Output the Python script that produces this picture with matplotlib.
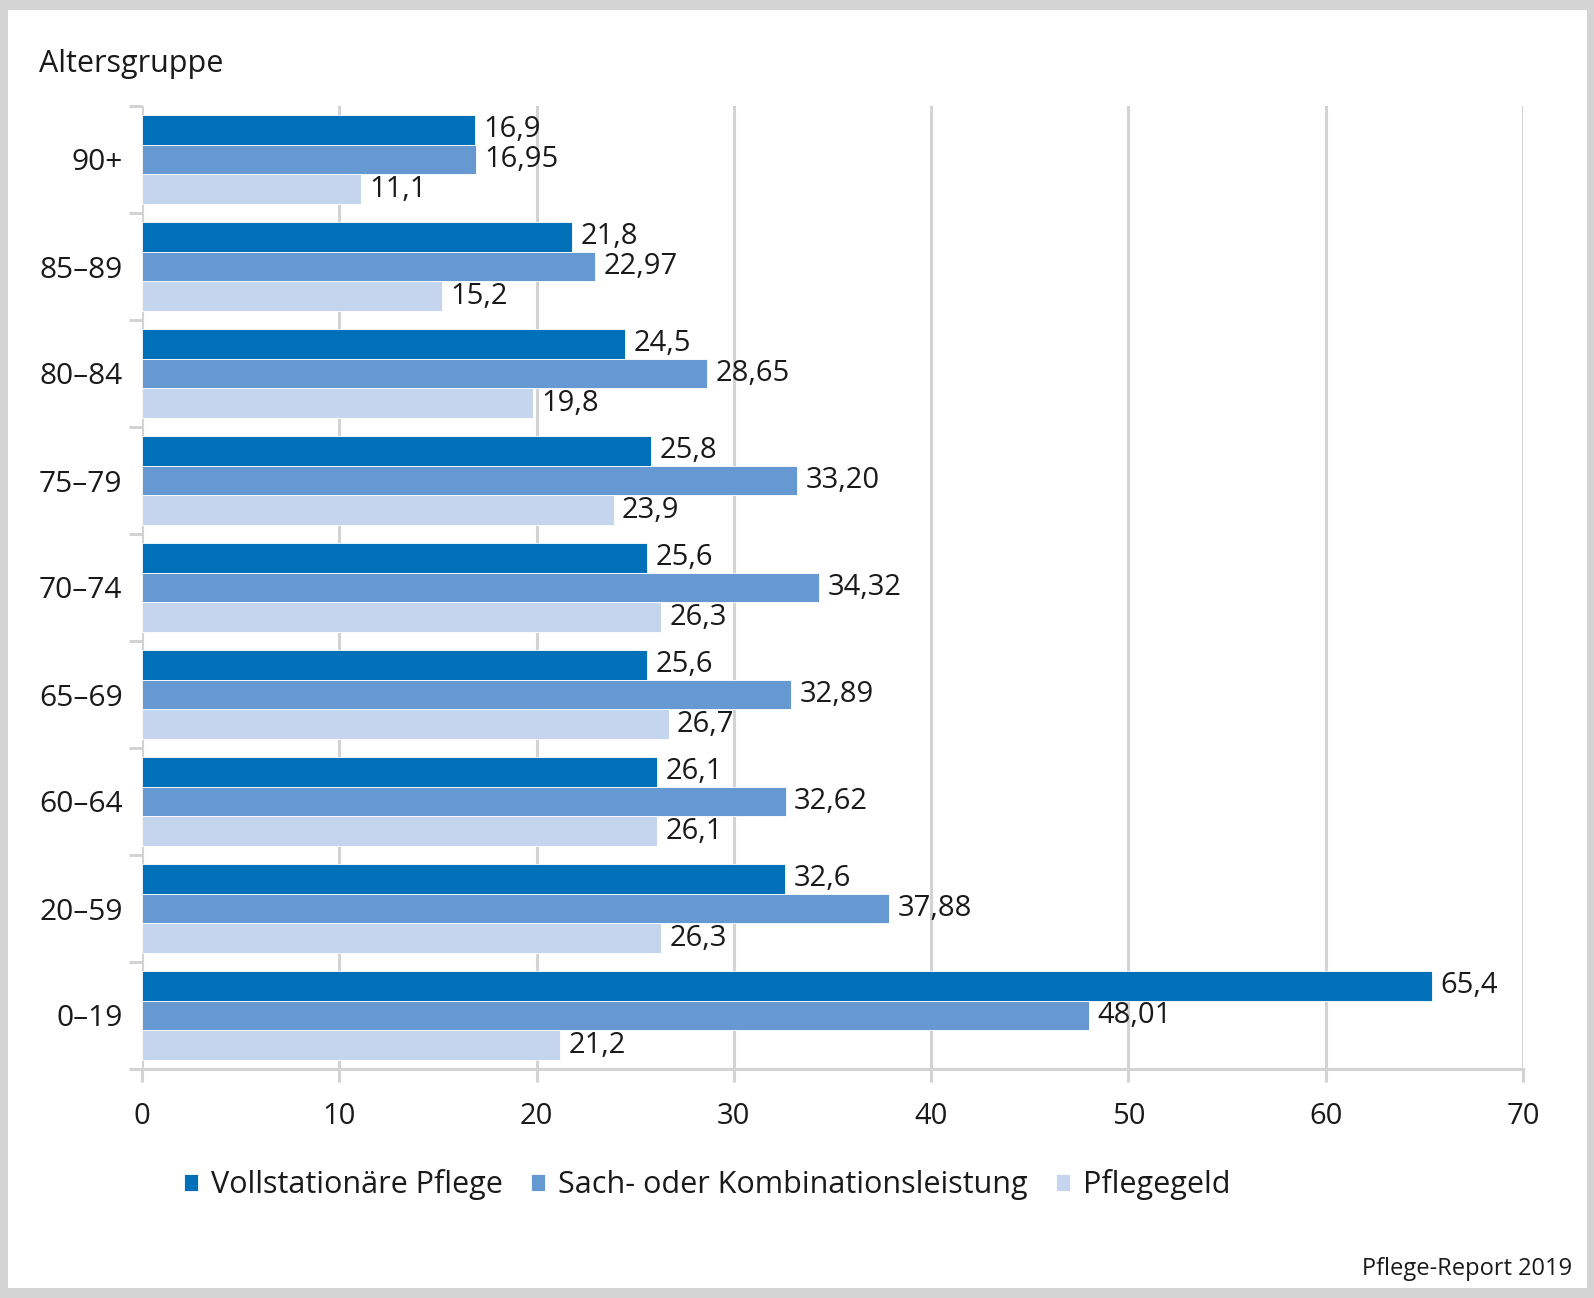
import numpy as np
import matplotlib
matplotlib.use('Agg')
import matplotlib.pyplot as plt
from matplotlib.patches import Rectangle

plt.rcParams['font.family'] = ['Open Sans', 'DejaVu Sans']

# Data, bottom to top as in the chart
groups = ['0–19', '20–59', '60–64', '65–69', '70–74', '75–79', '80–84', '85–89', '90+']
vollstationaer = [65.4, 32.6, 26.1, 25.6, 25.6, 25.8, 24.5, 21.8, 16.9]
sach_kombi = [48.01, 37.88, 32.62, 32.89, 34.32, 33.20, 28.65, 22.97, 16.95]
pflegegeld = [21.2, 26.3, 26.1, 26.7, 26.3, 23.9, 19.8, 15.2, 11.1]
series_names = ['Vollstationäre Pflege', 'Sach- oder Kombinationsleistung', 'Pflegegeld']
decimals = [1, 2, 1]
x_ticks = [0, 10, 20, 30, 40, 50, 60, 70]

colors = ['#0070b9', '#6699d1', '#c6d5ee']
grid_c = '#d3d3d3'
text_c = '#1a1a1a'
fs = 21

W, H = 1594, 1298
fig = plt.figure(figsize=(W / 100, H / 100), dpi=100, facecolor='#d4d4d4')
# white panel inside grey border
fig.patches.append(Rectangle((8 / W, 10 / H), 1579 / W, 1278 / H, transform=fig.transFigure,
                             facecolor='white', edgecolor='none', zorder=-10))

ax = fig.add_axes([142 / W, 1 - 1069 / H, 1381 / W, 963 / H])
ax.set_facecolor('none')

y = np.arange(len(groups))
h = 0.277
all_vals = [vollstationaer, sach_kombi, pflegegeld]
offsets = [h, 0, -h]
for vals, off, col, name, dec in zip(all_vals, offsets, colors, series_names, decimals):
    bars = ax.barh(y + off, vals, height=h, color=col, edgecolor='white', linewidth=0.6,
                   label=name, zorder=3)
    labels = [f'{v:.{dec}f}'.replace('.', ',') for v in vals]
    ax.bar_label(bars, labels=labels, padding=6, fontsize=fs, color=text_c)

ax.set_xlim(0, 70)
ax.set_ylim(-0.5, len(groups) - 0.5)
ax.set_xticks(x_ticks)
ax.set_xticklabels([str(t) for t in x_ticks])
ax.set_yticks(y)
ax.set_yticklabels(groups)
ax.set_yticks(np.arange(len(groups) + 1) - 0.5, minor=True)

ax.grid(axis='x', color=grid_c, linewidth=2.2, zorder=0)
for s in ['top', 'right', 'left']:
    ax.spines[s].set_visible(False)
ax.spines['bottom'].set_color(grid_c)
ax.spines['bottom'].set_linewidth(2.2)

ax.tick_params(axis='x', which='major', length=9.5, width=2.2, color=grid_c,
               labelsize=fs, labelcolor=text_c, pad=14.5)
ax.tick_params(axis='y', which='major', length=0, labelsize=21.5, labelcolor=text_c, pad=14)
ax.tick_params(axis='y', which='minor', length=9.5, width=2.2, color=grid_c)

fig.text(39 / W, 1 - 64 / H, 'Altersgruppe', fontsize=22, color=text_c, va='center', ha='left')

ax.legend(loc='center', bbox_to_anchor=(707 / W, 1 - 1185 / H), bbox_transform=fig.transFigure,
          ncol=3, frameon=False, fontsize=22, handlelength=0.46, handleheight=0.46,
          handletextpad=0.42, columnspacing=0.93, labelcolor=text_c)

fig.text(1572 / W, 1 - 1275 / H, 'Pflege-Report 2019', fontsize=17, color=text_c,
         ha='right', va='baseline')

fig.savefig('out.png', dpi=100, facecolor=fig.get_facecolor())
